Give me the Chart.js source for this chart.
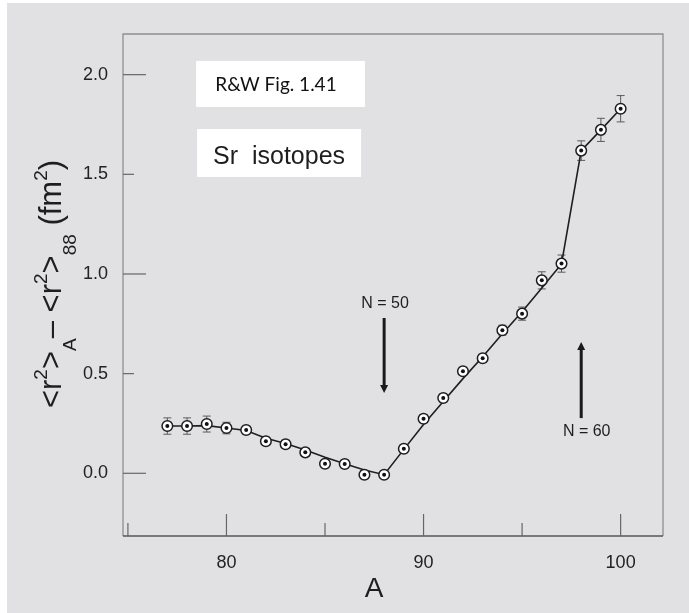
<!DOCTYPE html>
<html><head><meta charset="utf-8">
<script src="https://cdn.jsdelivr.net/npm/chart.js@4.4.0/dist/chart.umd.min.js"></script>
<style>html,body{margin:0;padding:0;background:#fff;}canvas{display:block;}</style>
</head><body>
<canvas id="c" width="689" height="613"></canvas>
<script>
// ---- data ----
const massNumbers = [77,78,79,80,81,82,83,84,85,86,87,88,89,90,91,92,93,94,95,96,97,98,99,100];
const deltaR2 = [0.237,0.237,0.247,0.227,0.217,0.161,0.146,0.105,0.048,0.047,-0.007,-0.007,0.123,0.274,0.378,0.512,0.577,0.718,0.801,0.968,1.052,1.619,1.723,1.829];
const deltaR2Err = [0.041,0.041,0.040,0.029,0.02,0.02,0.02,0.02,0.02,0.02,0.02,0.0,0.02,0.02,0.02,0.02,0.02,0.025,0.033,0.043,0.043,0.049,0.058,0.066];
const fitCurve = [0.237,0.237,0.239,0.227,0.215,0.176,0.149,0.117,0.080,0.048,0.017,-0.007,0.12,0.245,0.36,0.475,0.585,0.70,0.81,0.93,1.05,1.619,1.723,1.829];
const xTickValues = [80,90,100];
const xMinorTickValues = [75,85,95];
const yTickValues = [0,0.5,1,1.5,2];
const yTitleParts = [['<r','n'],['2','sup'],['>','n'],['A','sub'],['\u2013 <r','n'],['2','sup'],['>','n'],['88','sub'],[' (fm','n'],['2','sup'],[')','n']];
const xTitle = 'A';
const figLabel = 'R&W Fig. 1.41';
const seriesLabel = 'Sr  isotopes';
const n50Label = 'N = 50';
const n60Label = 'N = 60';

const FAM = '"Liberation Sans", Arial, Helvetica, sans-serif';
const INK = '#1e1e1e';

const bgPlugin = {
  id: 'bg',
  beforeDraw(chart) {
    const ctx = chart.ctx;
    ctx.save();
    ctx.fillStyle = '#ffffff';
    ctx.fillRect(0, 0, chart.width, chart.height);
    ctx.fillStyle = '#e1e1e3';
    ctx.fillRect(7, 3, chart.width - 7, chart.height - 3);
    ctx.restore();
  }
};

const framePlugin = {
  id: 'frame',
  beforeDatasetsDraw(chart) {
    const { ctx, chartArea: a, scales: { x, y } } = chart;
    ctx.save();
    // white label boxes
    const box = (x1, x2, y1, y2) => {
      const l = x.getPixelForValue(x1), r = x.getPixelForValue(x2);
      const t = y.getPixelForValue(y1), b = y.getPixelForValue(y2);
      ctx.fillStyle = '#ffffff';
      ctx.fillRect(l, t, r - l, b - t);
    };
    box(78.46, 87.03, 2.069, 1.838);
    box(78.51, 86.83, 1.727, 1.487);
    ctx.fillStyle = '#111';
    ctx.textBaseline = 'middle';
    ctx.textAlign = 'left';
    ctx.font = '19px Lato, "Liberation Sans", sans-serif';
    ctx.fillText(figLabel, x.getPixelForValue(79.43), y.getPixelForValue(1.948));
    ctx.fillStyle = INK;
    ctx.font = '25px ' + FAM;
    ctx.fillText(seriesLabel, x.getPixelForValue(79.32), y.getPixelForValue(1.587));

    // frame
    ctx.strokeStyle = '#8e8e8e';
    ctx.lineWidth = 1.3;
    ctx.beginPath();
    ctx.moveTo(a.left, a.bottom); ctx.lineTo(a.left, a.top);
    ctx.lineTo(a.right, a.top); ctx.lineTo(a.right, a.bottom);
    ctx.stroke();
    ctx.strokeStyle = '#555';
    ctx.lineWidth = 1.5;
    ctx.beginPath();
    ctx.moveTo(a.left, a.bottom); ctx.lineTo(a.right, a.bottom);
    ctx.stroke();
    // y ticks (inward)
    ctx.strokeStyle = '#666';
    ctx.lineWidth = 1.2;
    yTickValues.forEach(v => {
      const py = y.getPixelForValue(v);
      const len = Number.isInteger(v) ? 23 : 11;
      ctx.beginPath(); ctx.moveTo(a.left, py); ctx.lineTo(a.left + len, py); ctx.stroke();
    });
    // x ticks (inward)
    xTickValues.forEach(v => {
      const px = x.getPixelForValue(v);
      ctx.beginPath(); ctx.moveTo(px, a.bottom); ctx.lineTo(px, a.bottom - 22); ctx.stroke();
    });
    xMinorTickValues.forEach(v => {
      const px = Math.max(x.getPixelForValue(v), a.left);
      ctx.beginPath(); ctx.moveTo(px, a.bottom); ctx.lineTo(px, a.bottom - 13); ctx.stroke();
    });
    // error bars
    ctx.strokeStyle = '#5a5a5a';
    ctx.lineWidth = 1;
    massNumbers.forEach((m, i) => {
      const e = deltaR2Err[i];
      if (!e) return;
      const px = x.getPixelForValue(m);
      const t = y.getPixelForValue(deltaR2[i] + e);
      const b = y.getPixelForValue(deltaR2[i] - e);
      ctx.beginPath();
      ctx.moveTo(px, t); ctx.lineTo(px, b);
      ctx.moveTo(px - 4, t); ctx.lineTo(px + 4, t);
      ctx.moveTo(px - 4, b); ctx.lineTo(px + 4, b);
      ctx.stroke();
    });
    ctx.restore();
  },
  afterDraw(chart) {
    const { ctx, scales: { x, y } } = chart;
    ctx.save();
    // arrows
    const arrow = (xv, yFrom, yTo) => {
      const px = x.getPixelForValue(xv);
      const p0 = y.getPixelForValue(yFrom), p1 = y.getPixelForValue(yTo);
      const dir = p1 > p0 ? 1 : -1;
      ctx.strokeStyle = '#1a1a1a';
      ctx.fillStyle = '#1a1a1a';
      ctx.lineWidth = 3;
      ctx.beginPath(); ctx.moveTo(px, p0); ctx.lineTo(px, p1 - dir * 6); ctx.stroke();
      ctx.beginPath();
      ctx.moveTo(px, p1); ctx.lineTo(px - 4, p1 - dir * 8); ctx.lineTo(px + 4, p1 - dir * 8);
      ctx.closePath(); ctx.fill();
    };
    arrow(88, 0.779, 0.403);
    arrow(98, 0.277, 0.659);
    ctx.fillStyle = INK;
    ctx.font = '16px ' + FAM;
    ctx.textAlign = 'center';
    ctx.textBaseline = 'middle';
    ctx.fillText(n50Label, x.getPixelForValue(88.05), y.getPixelForValue(0.849));
    ctx.fillText(n60Label, x.getPixelForValue(98.28), y.getPixelForValue(0.207));

    // x title
    ctx.font = '28px ' + FAM;
    ctx.textBaseline = 'alphabetic';
    ctx.fillText(xTitle, 374, 597);

    // y title (rich text, rotated)
    const mainSize = 31, smallSize = 19;
    const fontFor = s => (s === 'n' ? mainSize : smallSize) + 'px ' + FAM;
    let total = 0;
    yTitleParts.forEach(([t, s]) => { ctx.font = fontFor(s); total += ctx.measureText(t).width; });
    ctx.translate(61, 284 + total / 2);
    ctx.rotate(-Math.PI / 2);
    ctx.textAlign = 'left';
    let xx = 0;
    yTitleParts.forEach(([t, s]) => {
      ctx.font = fontFor(s);
      const dy = s === 'sup' ? -14 : (s === 'sub' ? 15 : 0);
      ctx.fillText(t, xx, dy);
      xx += ctx.measureText(t).width;
    });
    ctx.restore();
  }
};

const pts = arr => massNumbers.map((m, i) => ({ x: m, y: arr[i] }));

new Chart(document.getElementById('c'), {
  type: 'scatter',
  data: {
    datasets: [
      { label: 'fit', data: pts(fitCurve), showLine: true, borderColor: INK, borderWidth: 1.6,
        pointRadius: 0, fill: false, order: 3 },
      { label: 'Sr isotopes', data: pts(deltaR2), pointRadius: 5.3, pointBackgroundColor: '#ffffff',
        pointBorderColor: INK, pointBorderWidth: 1.5, backgroundColor: '#ffffff', borderColor: INK, order: 2 },
      { label: 'centre', data: pts(deltaR2), pointRadius: 2, pointBackgroundColor: '#111',
        pointBorderWidth: 0, backgroundColor: '#111', borderColor: '#111', order: 1 }
    ]
  },
  options: {
    responsive: false,
    animation: false,
    devicePixelRatio: 1,
    layout: { padding: { top: 34, right: 26, left: 0, bottom: 0 } },
    plugins: { legend: { display: false }, tooltip: { enabled: false } },
    scales: {
      x: {
        type: 'linear', min: 74.75, max: 102.15,
        afterBuildTicks: s => { s.ticks = xTickValues.map(v => ({ value: v })); },
        afterFit: s => { s.height = 77; },
        grid: { display: false, drawTicks: false },
        border: { display: false },
        ticks: { font: { size: 18, family: FAM }, color: '#222', padding: 16, maxRotation: 0,
          autoSkip: false, callback: v => String(v) }
      },
      y: {
        type: 'linear', min: -0.3146, max: 2.204,
        afterBuildTicks: s => { s.ticks = yTickValues.map(v => ({ value: v })); },
        afterFit: s => { s.width = 123; },
        grid: { display: false, drawTicks: false },
        border: { display: false },
        ticks: { font: { size: 18, family: FAM }, color: '#222', padding: 15,
          callback: v => Number(v).toFixed(1) }
      }
    }
  },
  plugins: [bgPlugin, framePlugin]
});
</script>
</body></html>
